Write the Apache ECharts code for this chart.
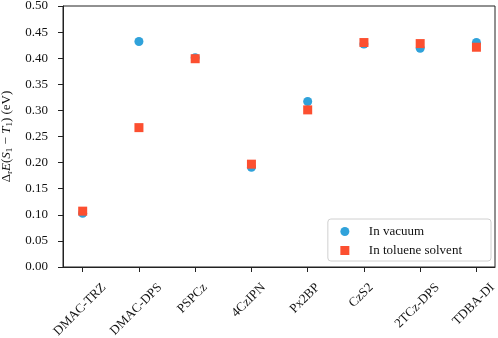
<!DOCTYPE html>
<html>
<head>
<meta charset="utf-8">
<script src="https://cdn.jsdelivr.net/npm/echarts@6/dist/echarts.min.js"></script>
<style>
  html, body { margin: 0; padding: 0; background: #fff; }
  #chartDiv { width: 498px; height: 338px; }
</style>
</head>
<body>
<div id="chartDiv"></div>
<script type="text/javascript">
  // molecule names along the x axis
  var molecules = ["DMAC-TRZ", "DMAC-DPS", "PSPCz", "4CzIPN", "Px2BP", "CzS2", "2TCz-DPS", "TDBA-DI"];
  // singlet-triplet gap (eV)
  var vacuumGap = [0.103, 0.432, 0.401, 0.191, 0.317, 0.427, 0.419, 0.430];
  var tolueneGap = [0.107, 0.267, 0.399, 0.197, 0.301, 0.430, 0.428, 0.421];

  var serif = "'Liberation Serif', 'DejaVu Serif', serif";
  var textColor = '#111';
  var labelSize = 13;
  var tickPositions = molecules.map(function (m, i) { return i; });

  function toPoints(values) {
    var pts = [];
    for (var i = 0; i < values.length; i++) {
      pts.push([i, values[i]]);
    }
    return pts;
  }

  // matplotlib centres rotated tick labels under the tick with their top edge on one line,
  // so push every label down by half its length (padding top + right moves it straight down)
  var measureCtx = document.createElement('canvas').getContext('2d');
  measureCtx.font = labelSize + "px " + serif;
  var xLabelRich = {};
  var nudge = 4; // small shift to the left
  for (var i = 0; i < molecules.length; i++) {
    var w = measureCtx.measureText(molecules[i]).width;
    xLabelRich['p' + i] = {
      fontFamily: serif,
      fontSize: labelSize,
      color: textColor,
      padding: [w / 2, w / 2 + nudge, nudge, 0]
    };
  }

  var myChart = echarts.init(document.getElementById('chartDiv'), null, { renderer: 'canvas' });

  var option = {
    animation: false,
    grid: {
      left: 63, right: 3, top: 6, bottom: 71,
      outerBoundsMode: 'none',
      show: true,
      borderColor: '#222',
      borderWidth: 1,
      backgroundColor: 'transparent'
    },
    xAxis: {
      type: 'value',
      min: -0.35,
      max: 7.33,
      splitLine: { show: false },
      axisLine: { show: true, onZero: false, lineStyle: { color: '#222', width: 1 } },
      axisTick: {
        show: true,
        customValues: tickPositions,
        length: 5,
        lineStyle: { color: '#222' }
      },
      axisLabel: {
        customValues: tickPositions,
        rotate: 45,
        align: 'center',
        verticalAlign: 'middle',
        margin: 18.5,
        fontFamily: serif,
        fontSize: labelSize,
        color: textColor,
        rich: xLabelRich,
        formatter: function (v) {
          var k = Math.round(v);
          return '{p' + k + '|' + molecules[k] + '}';
        }
      }
    },
    yAxis: {
      type: 'value',
      min: 0,
      max: 0.5,
      interval: 0.05,
      splitLine: { show: false },
      axisLine: { show: true, onZero: false, lineStyle: { color: '#222', width: 1 } },
      axisTick: { show: true, length: 5, lineStyle: { color: '#222' } },
      axisLabel: {
        fontFamily: serif,
        fontSize: labelSize,
        color: textColor,
        margin: 15,
        formatter: function (v) { return v.toFixed(2); }
      },
      name: '{n|Δ}{s|r}{i|E}{n|(}{i|S}{s|1}{n| − }{i|T}{s|1}{n|) (eV)}',
      nameLocation: 'middle',
      nameGap: 32.5,
      nameRotate: 90,
      nameTextStyle: {
        rich: {
          n: { fontFamily: serif, fontSize: 13, color: textColor },
          i: { fontFamily: serif, fontSize: 13, fontStyle: 'italic', color: textColor },
          s: { fontFamily: serif, fontSize: 9, color: textColor, verticalAlign: 'bottom', padding: [6, 0, 0, 0] }
        }
      }
    },
    legend: {
      orient: 'vertical',
      right: 7,
      top: 219,
      padding: [6, 29, 4, 12.5],
      itemGap: 6,
      itemWidth: 9,
      itemHeight: 9,
      backgroundColor: '#fff',
      borderColor: '#d0d0d0',
      borderWidth: 1,
      borderRadius: 3,
      textStyle: { fontFamily: serif, fontSize: 13, color: textColor, padding: [0, 0, 0, 14.5] },
      data: [
        { name: 'In vacuum', icon: 'circle' },
        { name: 'In toluene solvent', icon: 'rect' }
      ]
    },
    series: [
      {
        name: 'In vacuum',
        type: 'scatter',
        symbol: 'circle',
        symbolSize: 9,
        itemStyle: { color: '#30a2da', opacity: 1 },
        data: toPoints(vacuumGap),
        z: 2
      },
      {
        name: 'In toluene solvent',
        type: 'scatter',
        symbol: 'rect',
        symbolSize: 9,
        itemStyle: { color: '#fc4f30', opacity: 1 },
        data: toPoints(tolueneGap),
        z: 3
      }
    ]
  };

  myChart.setOption(option);
</script>
</body>
</html>
